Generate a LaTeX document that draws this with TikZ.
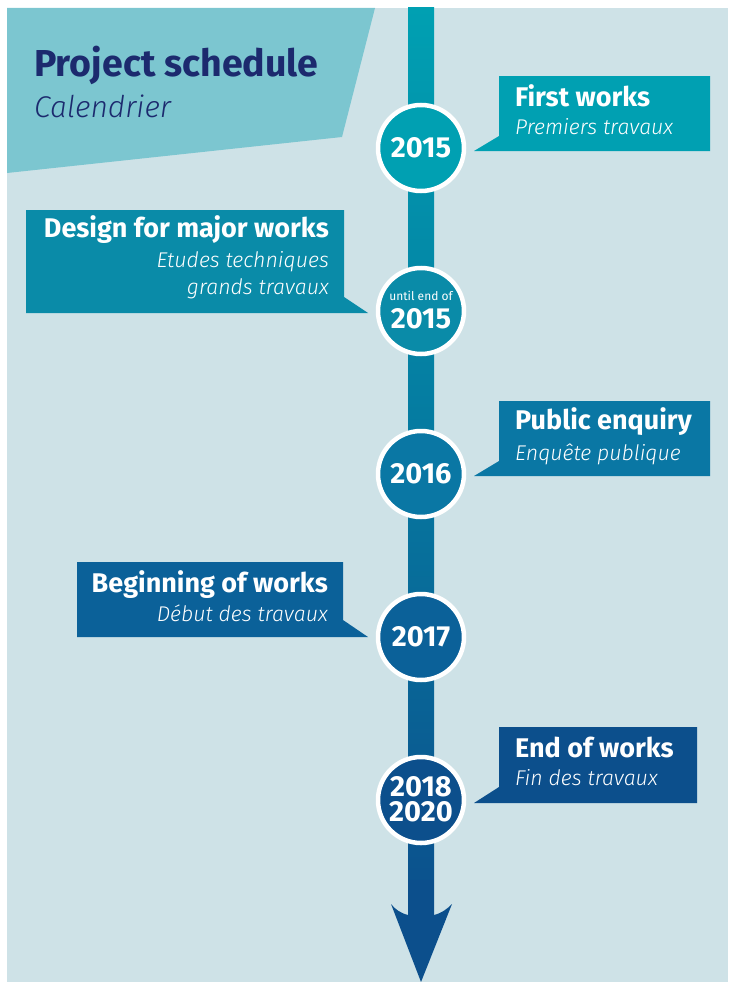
\documentclass[tikz,border=0pt]{standalone}
\usepackage{fontspec}
\setmainfont{Fira Sans}[ItalicFont={Fira Sans Light Italic}, BoldFont={Fira Sans Bold}]
\definecolor{bgc}{HTML}{CEE2E7}
\definecolor{panel}{HTML}{7CC6D0}
\definecolor{navy}{HTML}{1C2A6E}
\definecolor{ca}{HTML}{00A0B2}
\definecolor{cb}{HTML}{0A8BA8}
\definecolor{cc}{HTML}{0A77A4}
\definecolor{cd}{HTML}{0B6199}
\definecolor{ce}{HTML}{0C4F8C}
\begin{document}
\begin{tikzpicture}[x=1pt,y=-1pt,
  yearc/.style={circle, draw=white, line width=4.5pt, minimum size=86pt, inner sep=0pt, text=white, font=\bfseries\fontsize{29}{25}\selectfont, align=center},
  yeart/.style={anchor=base, inner sep=0pt, text=white, font=\bfseries\fontsize{29}{25}\selectfont},
  headr/.style={anchor=base west, text=white, font=\bfseries\fontsize{27}{30}\selectfont, inner sep=0pt},
  subr/.style={anchor=base west, text=white, font=\itshape\fontsize{21.3}{24}\selectfont, inner sep=0pt},
  headl/.style={headr, anchor=base east},
  subl/.style={subr, anchor=base east},
]
\useasboundingbox (0,0) rectangle (728,982);
% background
\fill[bgc] (7,8) rectangle (728,982);
\fill[panel] (7,8) -- (375,8) -- (342,137) -- (7,173) -- cycle;
\node[anchor=base west, inner sep=0pt, text=navy, font=\bfseries\fontsize{37.5}{40}\selectfont] (title) at (34,77) {Project schedule};
\node[anchor=base west, inner sep=0pt, text=navy, font=\itshape\fontsize{30}{34}\selectfont] (subtitle) at (34,117) {Calendrier};
% shaft
\shade[top color=ca, bottom color=ce] (408,8) rectangle (434,918);
\fill[ce] (408,915) .. controls (400,913) and (395,909) .. (391,904) -- (421,982) -- (452,904) .. controls (447,909) and (442,913) .. (434,915) -- cycle;
\fill[ce] (408,880) rectangle (434,918);
% boxes
\fill[ca] (499,76) -- (710,76) -- (710,151) -- (474,151) -- (499,136) -- cycle;
\fill[cb] (26,210) -- (344,210) -- (344,297) -- (368,313) -- (26,313) -- cycle;
\fill[cc] (499,401) -- (710,401) -- (710,476) -- (474,476) -- (499,461) -- cycle;
\fill[cd] (77,562) -- (343,562) -- (343,620) -- (368,637) -- (77,637) -- cycle;
\fill[ce] (499,727) -- (697,727) -- (697,803) -- (474,803) -- (499,787) -- cycle;
% circles
\node[yearc, fill=ca] (y1) at (421,148) {2015};
\node[yearc, fill=cb] (y2) at (421,311) {};
\node[anchor=base, inner sep=0pt, text=white, font=\fontsize{12}{14}\selectfont] (y2a) at (421,300) {until end of};
\node[yeart] (y2b) at (421,328) {2015};
\node[yearc, fill=cc] (y3) at (421,474) {2016};
\node[yearc, fill=cd] (y4) at (421,637) {2017};
\node[yearc, fill=ce] (y5) at (421,800) {};
\node[yeart] (y5a) at (421,796) {2018};
\node[yeart] (y5b) at (421,821) {2020};
% texts
\node[headr] (t1) at (515,106) {First works};
\node[subr] (s1) at (515,134) {Premiers travaux};
\node[headl] (t2) at (329,237) {Design for major works};
\node[subl] (s2a) at (329,267) {Etudes techniques};
\node[subl] (s2b) at (329,294) {grands travaux};
\node[headr] (t3) at (515,429) {Public enquiry};
\node[subr] (s3) at (515,460) {Enquête publique};
\node[headl] (t4) at (328,592) {Beginning of works};
\node[subl] (s4) at (328,621) {Début des travaux};
\node[headr] (t5) at (515,757) {End of works};
\node[subr] (s5) at (515,785) {Fin des travaux};
\end{tikzpicture}
\end{document}
